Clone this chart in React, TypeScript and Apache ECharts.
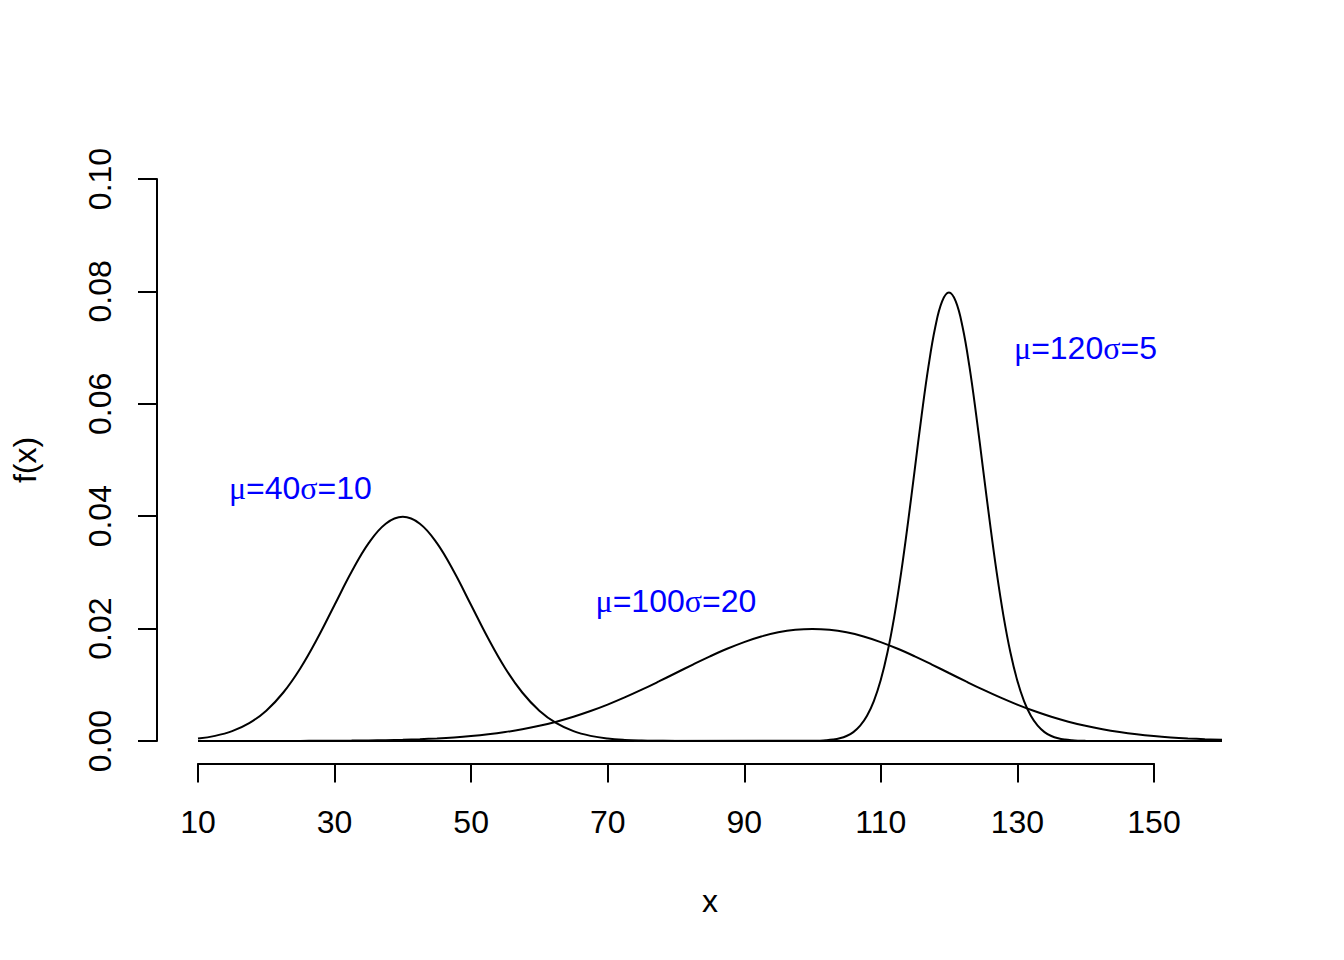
import React, { useEffect, useRef } from "react";
import * as echarts from "echarts";

// x positions and density values
const xA = [10, 12.5, 15, 17.5, 20, 22.5, 25, 27.5, 30, 32.5, 35, 37.5, 40, 42.5, 45, 47.5, 50, 52.5, 55, 57.5, 60, 62.5, 65, 67.5, 70, 72.5, 75, 77.5, 80, 160];
const yA = [0.00044, 0.00091, 0.00175, 0.00317, 0.0054, 0.00863, 0.01295, 0.01827, 0.0242, 0.03011, 0.03521, 0.03867, 0.03989, 0.03867, 0.03521, 0.03011, 0.0242, 0.01827, 0.01295, 0.00863, 0.0054, 0.00317, 0.00175, 0.00091, 0.00044, 0.0002, 0.00009, 0.00004, 0.00001, 0];

const xB = [10, 12.5, 15, 17.5, 20, 22.5, 25, 27.5, 30, 32.5, 35, 37.5, 40, 42.5, 45, 47.5, 50, 52.5, 55, 57.5, 60, 62.5, 65, 67.5, 70, 72.5, 75, 77.5, 80, 82.5, 85, 87.5, 90, 92.5, 95, 97.5, 100, 102.5, 105, 107.5, 110, 112.5, 115, 117.5, 120, 122.5, 125, 127.5, 130, 132.5, 135, 137.5, 140, 142.5, 145, 147.5, 150, 152.5, 155, 157.5, 160];
const yB = [0.000001, 0.000001, 0.000002, 0.000004, 0.000007, 0.000011, 0.000018, 0.000028, 0.000044, 0.000067, 0.000102, 0.000151, 0.000222, 0.00032, 0.000455, 0.000636, 0.000876, 0.001188, 0.001587, 0.002086, 0.0027, 0.003439, 0.004314, 0.005327, 0.006476, 0.007751, 0.009132, 0.010594, 0.012099, 0.013603, 0.015057, 0.016408, 0.017603, 0.018593, 0.019333, 0.019792, 0.019947, 0.019792, 0.019333, 0.018593, 0.017603, 0.016408, 0.015057, 0.013603, 0.012099, 0.010594, 0.009132, 0.007751, 0.006476, 0.005327, 0.004314, 0.003439, 0.0027, 0.002086, 0.001587, 0.001188, 0.000876, 0.000636, 0.000455, 0.00032, 0.000222];

const xC = [10, 100, 101, 102, 103, 104, 105, 106, 107, 108, 109, 110, 111, 112, 113, 114, 115, 116, 117, 118, 119, 120, 121, 122, 123, 124, 125, 126, 127, 128, 129, 130, 131, 132, 133, 134, 135, 136, 137, 138, 139, 140, 160];
const yC = [0, 0.000027, 0.000058, 0.000122, 0.000247, 0.000477, 0.000886, 0.001583, 0.002717, 0.004479, 0.007095, 0.010798, 0.01579, 0.022184, 0.029945, 0.038837, 0.048394, 0.057938, 0.066645, 0.073654, 0.078208, 0.079788, 0.078208, 0.073654, 0.066645, 0.057938, 0.048394, 0.038837, 0.029945, 0.022184, 0.01579, 0.010798, 0.007095, 0.004479, 0.002717, 0.001583, 0.000886, 0.000477, 0.000247, 0.000122, 0.000058, 0.000027, 0];

const xTickMin = 10;
const xTickMax = 150;
const xTickStep = 20;
const labelTexts = [
  { mu: "40", sigma: "10", x: 25, y: 0.045 },
  { mu: "100", sigma: "20", x: 80, y: 0.025 },
  { mu: "120", sigma: "5", x: 140, y: 0.07 },
];

const SANS = "'Liberation Sans', Arial, sans-serif";
const SERIF = "'Liberation Serif', 'DejaVu Serif', serif";

function zip(xs: number[], ys: number[]) {
  return xs.map((x, i) => [x, ys[i]]);
}

export default function App() {
  const ref = useRef<HTMLDivElement>(null);
  useEffect(() => {
    if (!ref.current) return;
    const chart = echarts.init(ref.current, null, { renderer: "svg" });
    const curveStyle = { color: "#000", width: 2 };
    const curve = (xs: number[], ys: number[]) => ({
      type: "line",
      data: zip(xs, ys),
      showSymbol: false,
      symbol: "none",
      smooth: 0.4,
      lineStyle: curveStyle,
      silent: true,
    });
    const labelSeries = labelTexts.map((l) => ({
      type: "scatter",
      data: [[l.x, l.y]],
      symbolSize: 0,
      itemStyle: { color: "#0000ff", opacity: 1 },
      silent: true,
      label: {
        show: true,
        position: "inside",
        textBorderWidth: 0,
        color: "#0000ff",
        formatter: `{g|μ}{t|=${l.mu}}{g|σ}{t|=${l.sigma}}`,
        rich: {
          g: { fontFamily: SERIF, fontSize: 32, color: "#0000ff", textBorderWidth: 0 },
          t: { fontFamily: SANS, fontSize: 32, color: "#0000ff", textBorderWidth: 0 },
        },
      },
    }));
    chart.setOption({
      animation: false,
      backgroundColor: "#fff",
      grid: [
        { left: 198, right: 122, top: 179, bottom: 219 },
        { left: 198, right: 190, top: 700, bottom: 196.5 },
      ],
      xAxis: [
        {
          type: "value",
          gridIndex: 0,
          min: 10,
          max: 160,
          offset: 22.5,
          name: "x",
          nameLocation: "middle",
          nameGap: 121,
          nameTextStyle: { fontFamily: SANS, fontSize: 32, color: "#000" },
          axisLine: { show: false },
          axisTick: { show: false },
          axisLabel: { show: false },
          splitLine: { show: false },
        },
        {
          type: "value",
          gridIndex: 1,
          min: xTickMin,
          max: xTickMax,
          interval: xTickStep,
          axisLine: { show: true, lineStyle: { color: "#000", width: 2 } },
          axisTick: { show: true, length: 19, lineStyle: { color: "#000", width: 2 } },
          axisLabel: {
            fontFamily: SANS,
            fontSize: 32,
            color: "#000",
            margin: 42,
            showMinLabel: true,
            showMaxLabel: true,
          },
          splitLine: { show: false },
        },
      ],
      yAxis: [
        {
          type: "value",
          gridIndex: 0,
          min: 0,
          max: 0.1,
          interval: 0.02,
          offset: 41,
          name: "f(x)",
          nameLocation: "middle",
          nameRotate: 90,
          nameGap: 116,
          nameTextStyle: { fontFamily: SANS, fontSize: 32, color: "#000" },
          axisLine: { show: true, lineStyle: { color: "#000", width: 2 } },
          axisTick: { show: true, length: 19, lineStyle: { color: "#000", width: 2 } },
          axisLabel: {
            rotate: 90,
            fontFamily: SANS,
            fontSize: 32,
            color: "#000",
            margin: 41,
            formatter: (v: number) => v.toFixed(2),
          },
          splitLine: { show: false },
        },
        { type: "value", gridIndex: 1, show: false },
      ],
      series: [curve(xA, yA), curve(xB, yB), curve(xC, yC), ...labelSeries],
    } as any);
    return () => chart.dispose();
  }, []);
  return (
    <div
      ref={ref}
      style={{ position: "fixed", left: 0, top: 0, width: 1344, height: 960, background: "#fff" }}
    />
  );
}
